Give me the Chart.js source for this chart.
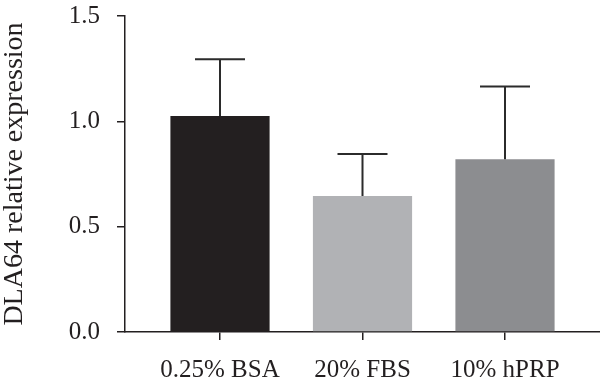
<!DOCTYPE html>
<html>
<head>
<meta charset="utf-8">
<script src="https://cdn.jsdelivr.net/npm/chart.js@4"></script>
<style>
  html, body { margin: 0; padding: 0; background: #fff; }
  #wrap { width: 600px; height: 388px; }
</style>
</head>
<body>
<div id="wrap"><canvas id="chart"></canvas></div>
<script>
// groups and values
const groups = ['0.25% BSA', '20% FBS', '10% hPRP'];
const means = [1.025, 0.645, 0.82];
const errors = [0.27, 0.20, 0.345];
const barColors = ['#231f20', '#b1b2b5', '#8c8d90'];
const yTicks = [0, 0.5, 1.0, 1.5];

const ink = '#231f20';
const serif = "'Liberation Serif', 'DejaVu Serif', serif";

// draws the upper error bar (line + cap) on each bar
const errorBars = {
  id: 'errorBars',
  afterDatasetsDraw(chart) {
    const ctx = chart.ctx;
    const y = chart.scales.y;
    const meta = chart.getDatasetMeta(0);
    ctx.save();
    ctx.strokeStyle = '#2b2b2b';
    ctx.lineWidth = 2;
    meta.data.forEach((bar, i) => {
      const top = y.getPixelForValue(means[i] + errors[i]);
      const base = y.getPixelForValue(means[i]);
      ctx.beginPath();
      ctx.moveTo(bar.x, base);
      ctx.lineTo(bar.x, top);
      ctx.moveTo(bar.x - 25, top);
      ctx.lineTo(bar.x + 25, top);
      ctx.stroke();
    });
    ctx.restore();
  }
};

new Chart(document.getElementById('chart'), {
  type: 'bar',
  data: {
    datasets: [{
      data: means.map((m, i) => ({ x: i + 1, y: m })),
      backgroundColor: barColors,
      borderWidth: 0,
      barPercentage: 0.87,
      categoryPercentage: 0.8
    }]
  },
  options: {
    responsive: true,
    maintainAspectRatio: false,
    animation: false,
    layout: { padding: 0 },
    plugins: {
      legend: { display: false },
      tooltip: { enabled: false }
    },
    scales: {
      x: {
        type: 'linear',
        min: 1 / 3,
        max: 11 / 3,
        offset: false,
        afterBuildTicks: (scale) => {
          scale.ticks = groups.map((g, i) => ({ value: i + 1 }));
        },
        afterFit: (scale) => { scale.height = 56; },
        ticks: {
          callback: (v) => groups[v - 1],
          color: ink,
          font: { family: serif, size: 25 },
          padding: 15,
          maxRotation: 0,
          autoSkip: false
        },
        grid: {
          offset: false,
          drawOnChartArea: false,
          drawTicks: true,
          tickLength: 8,
          tickColor: ink,
          lineWidth: 1.5
        },
        border: { color: ink, width: 1.5 }
      },
      y: {
        min: 0,
        max: 1.5,
        afterBuildTicks: (scale) => {
          scale.ticks = yTicks.map(v => ({ value: v }));
        },
        afterFit: (scale) => {
          scale.width = 125;
          scale.paddingTop = 16;
          scale.paddingBottom = 0;
        },
        ticks: {
          callback: (v) => v.toFixed(1),
          color: ink,
          font: { family: serif, size: 25 },
          padding: 17
        },
        grid: {
          drawOnChartArea: false,
          drawTicks: true,
          tickLength: 8,
          tickColor: ink,
          lineWidth: 1.5
        },
        border: { color: ink, width: 1.5 },
        title: {
          display: true,
          text: 'DLA64 relative expression',
          color: ink,
          font: { family: serif, size: 28 },
          padding: { top: -2, bottom: 0 }
        }
      }
    }
  },
  plugins: [errorBars]
});
</script>
</body>
</html>
